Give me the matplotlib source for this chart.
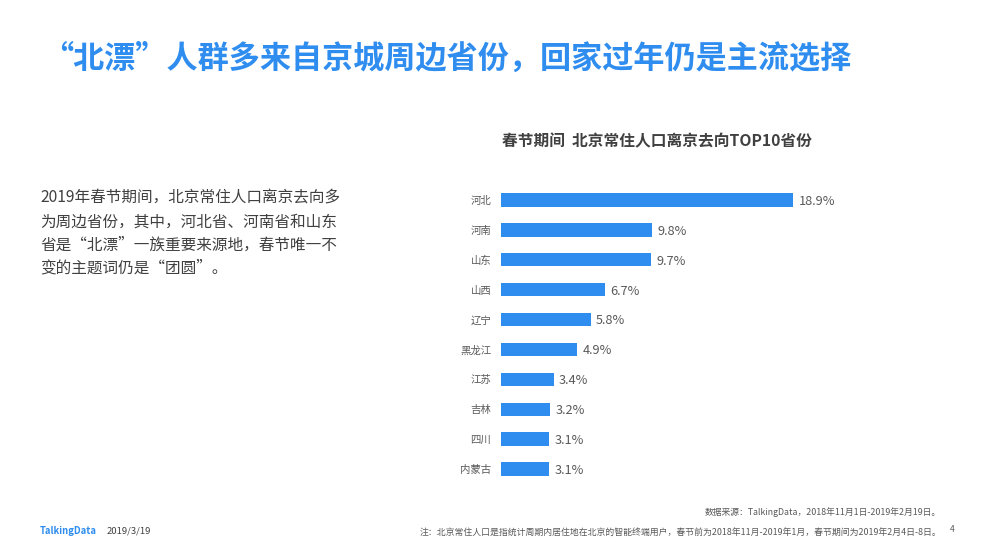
"""TalkingData slide: top 10 destinations for Beijing residents during Spring Festival."""
import matplotlib.pyplot as plt

plt.rcParams['font.family'] = ['Noto Sans CJK SC', 'DejaVu Sans']

provinces = ['河北', '河南', '山东', '山西', '辽宁', '黑龙江', '江苏', '吉林', '四川', '内蒙古']
shares = [18.9, 9.8, 9.7, 6.7, 5.8, 4.9, 3.4, 3.2, 3.1, 3.1]
body_lines = [
    '2019年春节期间，北京常住人口离京去向多',
    '为周边省份，其中，河北省、河南省和山东',
    '省是“北漂”一族重要来源地，春节唯一不',
    '变的主题词仍是“团圆”。',
]

W, H = 989, 555
BLUE = '#2E8DEF'
GREY = '#595959'


def put(x, y, s, **kw):
    # pixel coordinates of the slide, y from the top
    kw.setdefault('va', 'center')
    return fig.text(x / W, 1 - y / H, s, **kw)


fig = plt.figure(figsize=(W / 100, H / 100), dpi=100)

ax = fig.add_axes([501 / W, 1 - 484 / H, 292 / W, 299 / H])
ax.barh(range(len(provinces)), shares, height=0.45, color=BLUE)
for i, v in enumerate(shares):
    ax.annotate(f'{v}%', (v, i), textcoords='offset points', xytext=(4, -1),
                va='center', fontsize=9.2, color=GREY)
ax.set_xlim(0, 18.9)
ax.set_ylim(9.5, -0.5)
ax.set_xticks([])
ax.set_yticks(range(len(provinces)))
ax.set_yticklabels(provinces, fontsize=7.5, color=GREY)
ax.tick_params(axis='y', length=0, pad=7)
for side in ax.spines.values():
    side.set_visible(False)
ax.patch.set_alpha(0)

put(42, 59, '“北漂”人群多来自京城周边省份，回家过年仍是主流选择',
    fontsize=22.4, fontweight='bold', color=BLUE)
put(657, 141, '春节期间  北京常住人口离京去向TOP10省份', ha='center',
    fontsize=11.3, fontweight='bold', color='#404040')
for i, line in enumerate(body_lines):
    put(40, 198.5 + i * 23.3, line, fontsize=11.25, color='#404040')

put(941, 512, '数据来源：TalkingData，2018年11月1日-2019年2月19日。', ha='right',
    fontsize=6.35, style='italic', color=GREY)
put(941, 533, '注：北京常住人口是指统计周期内居住地在北京的智能终端用户，春节前为2018年11月-2019年1月，春节期间为2019年2月4日-8日。',
    ha='right', fontsize=6.4, style='italic', color=GREY)
put(40, 531, 'TalkingData', fontsize=6.8, fontweight='bold', color=BLUE)
put(107, 531, '2019/3/19', fontsize=6.8, color='#404040')
put(950, 530, '4', fontsize=6, color=GREY)

fig.savefig('out.png', dpi=100)
